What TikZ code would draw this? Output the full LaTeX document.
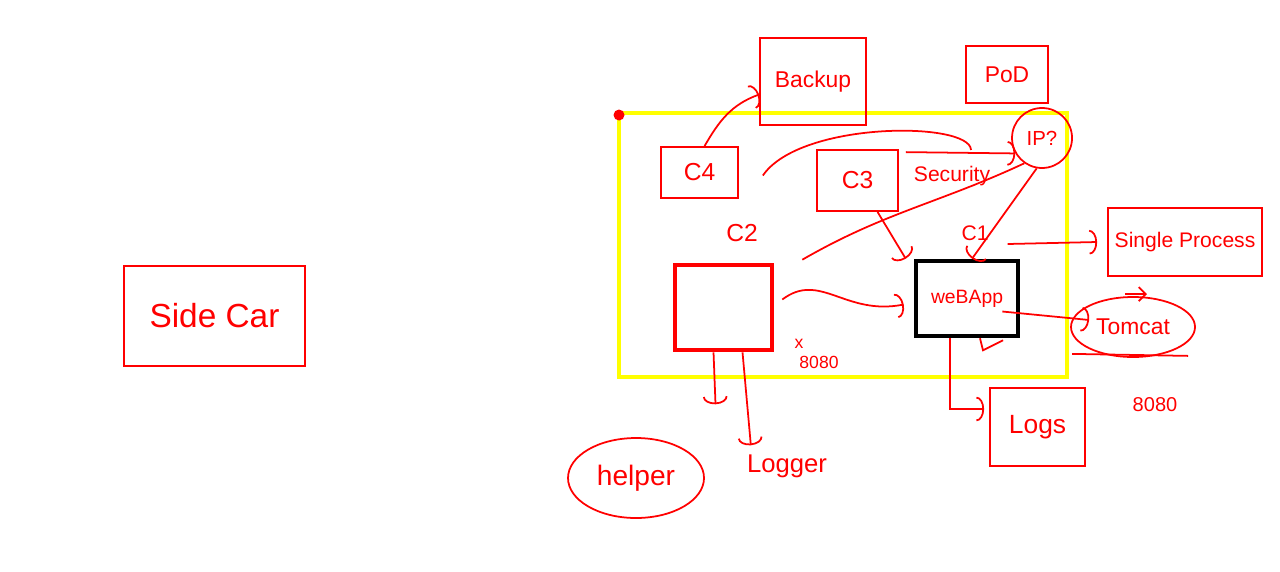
\documentclass[tikz,border=0pt]{standalone}
\usepackage{fontspec}
\setmainfont{Liberation Sans}
\usetikzlibrary{arrows.meta,shapes.geometric}

\begin{document}
\begin{tikzpicture}[font=\fontsize{6.5}{7.5}\selectfont,
  pen/.style={draw=inkred,line width=0.5pt},
  sbox/.style={pen,text=inkred,inner sep=0pt},
  lbl/.style={text=inkred,inner sep=1pt},
  hook/.style={-{Arc Barb[length=2.2pt,width=7pt]}}]
  \definecolor{inkred}{HTML}{FF0000}
  \definecolor{podyellow}{HTML}{FFFF00}
  \path[use as bounding box] (0,0) rectangle (12.8,5.71);
  % pod outline
  \draw[podyellow,line width=1.2pt] (6.19,1.94) rectangle (10.67,4.58);
  \fill[inkred] (6.19,4.56) circle (0.055);
  % containers
  \node[pen,line width=1.3pt,minimum width=0.97cm,minimum height=0.85cm] (c2box) at (7.235,2.635) {};
  \node[draw=black,line width=1.3pt,text=inkred,minimum width=1.02cm,minimum height=0.75cm,font=\fontsize{5.5}{6.5}\selectfont] (webapp) at (9.67,2.725) {weBApp};
  \node[sbox,minimum width=0.77cm,minimum height=0.51cm,font=\fontsize{7}{8}\selectfont] (c4) at (6.995,3.985) {C4};
  \node[sbox,minimum width=0.81cm,minimum height=0.61cm,font=\fontsize{7}{8}\selectfont] (c3) at (8.575,3.905) {C3};
  \node[sbox,minimum width=1.06cm,minimum height=0.87cm] (backup) at (8.13,4.895) {Backup};
  \node[sbox,minimum width=0.82cm,minimum height=0.57cm] (pod) at (10.07,4.965) {PoD};
  \node[pen,circle,text=inkred,minimum size=0.60cm,inner sep=0pt,font=\fontsize{5.8}{6.5}\selectfont] (ip) at (10.42,4.33) {IP?};
  \node[lbl,font=\fontsize{6}{7}\selectfont] (security) at (9.52,3.95) {Security};
  \node[lbl,font=\fontsize{7}{8}\selectfont] (c2) at (7.42,3.38) {C2};
  \node[lbl,font=\fontsize{6}{7}\selectfont] (c1) at (9.75,3.38) {C1};
  \node[lbl,font=\fontsize{5}{6}\selectfont] (cross) at (7.99,2.27) {x};
  \node[lbl,font=\fontsize{5}{6}\selectfont] (port) at (8.19,2.09) {8080};
  \node[lbl,font=\fontsize{5.7}{6.5}\selectfont] (tomport) at (11.55,1.66) {8080};
  % outside notes
  \node[sbox,minimum width=1.54cm,minimum height=0.68cm,font=\fontsize{6}{7}\selectfont] (single) at (11.85,3.29) {Single Process};
  \node[pen,ellipse,text=inkred,minimum width=1.24cm,minimum height=0.60cm,inner sep=0pt] (tomcat) at (11.33,2.44) {Tomcat};
  \node[sbox,minimum width=0.95cm,minimum height=0.78cm,font=\fontsize{7.5}{8.5}\selectfont] (logs) at (10.375,1.44) {Logs};
  \node[pen,ellipse,text=inkred,minimum width=1.36cm,minimum height=0.80cm,inner sep=0pt,font=\fontsize{8}{9}\selectfont] (helper) at (6.36,0.93) {helper};
  \node[lbl,font=\fontsize{7.3}{8.3}\selectfont] (logger) at (7.87,1.05) {Logger};
  \node[sbox,minimum width=1.81cm,minimum height=1.0cm,font=\fontsize{9.5}{10.5}\selectfont] (sidecar) at (2.145,2.55) {Side Car};
  % connectors
  \draw[pen,hook] ([xshift=0.05cm]c4.north) to[out=60,in=200] ([yshift=-0.13cm]backup.west);
  \draw[pen] ([xshift=0.24cm,yshift=-0.03cm]c4.east) .. controls (8.0,4.5) and (9.7,4.5) .. ([shift={(0.19,0.12)}]security.north);
  \draw[pen,hook] ([shift={(0.07,-0.03)}]c3.north east) -- (ip.-150);
  \draw[pen] ([shift={(0.28,0.03)}]c2box.north east) to[out=30,in=205] (ip.-125);
  \draw[pen,hook] (ip.-100) -- ([xshift=0.05cm]webapp.north);
  \draw[pen,hook] ([xshift=0.2cm]c3.south) -- ([xshift=-0.08cm]webapp.north west);
  \draw[pen,hook] ([xshift=0.08cm,yshift=0.08cm]c2box.east) .. controls (8.2,3.0) and (8.45,2.55) .. ([shift={(-0.1,-0.06)}]webapp.west);
  \draw[pen,hook] ([shift={(-0.18,-0.13)}]webapp.east) -- ([shift={(0.19,0.07)}]tomcat.west);
  \draw[pen,hook] ([shift={(0.15,-0.11)}]c1.east) -- ([xshift=-0.1cm]single.west);
  \draw[pen,hook] ([xshift=-0.17cm]webapp.south) |- ([shift={(-0.05,0.18)}]logs.west);
  \draw[pen] ([xshift=0.13cm]webapp.south) -- ++(0.03,-0.12) -- ++(0.2,0.1);
  \draw[pen,hook] ([xshift=-0.1cm]c2box.south) -- ++(0.02,-0.52);
  \draw[pen,hook] ([xshift=0.19cm]c2box.south) -- ([shift={(0.08,0.05)}]logger.north west);
  \draw[pen] ([shift={(-0.61,0.04)}]tomcat.south) -- ++(1.16,-0.02);
  \draw[pen,-{Straight Barb[length=2pt,width=4pt]}] ([shift={(-0.08,0.02)}]tomcat.north) -- ++(0.22,0);
\end{tikzpicture}
\end{document}
